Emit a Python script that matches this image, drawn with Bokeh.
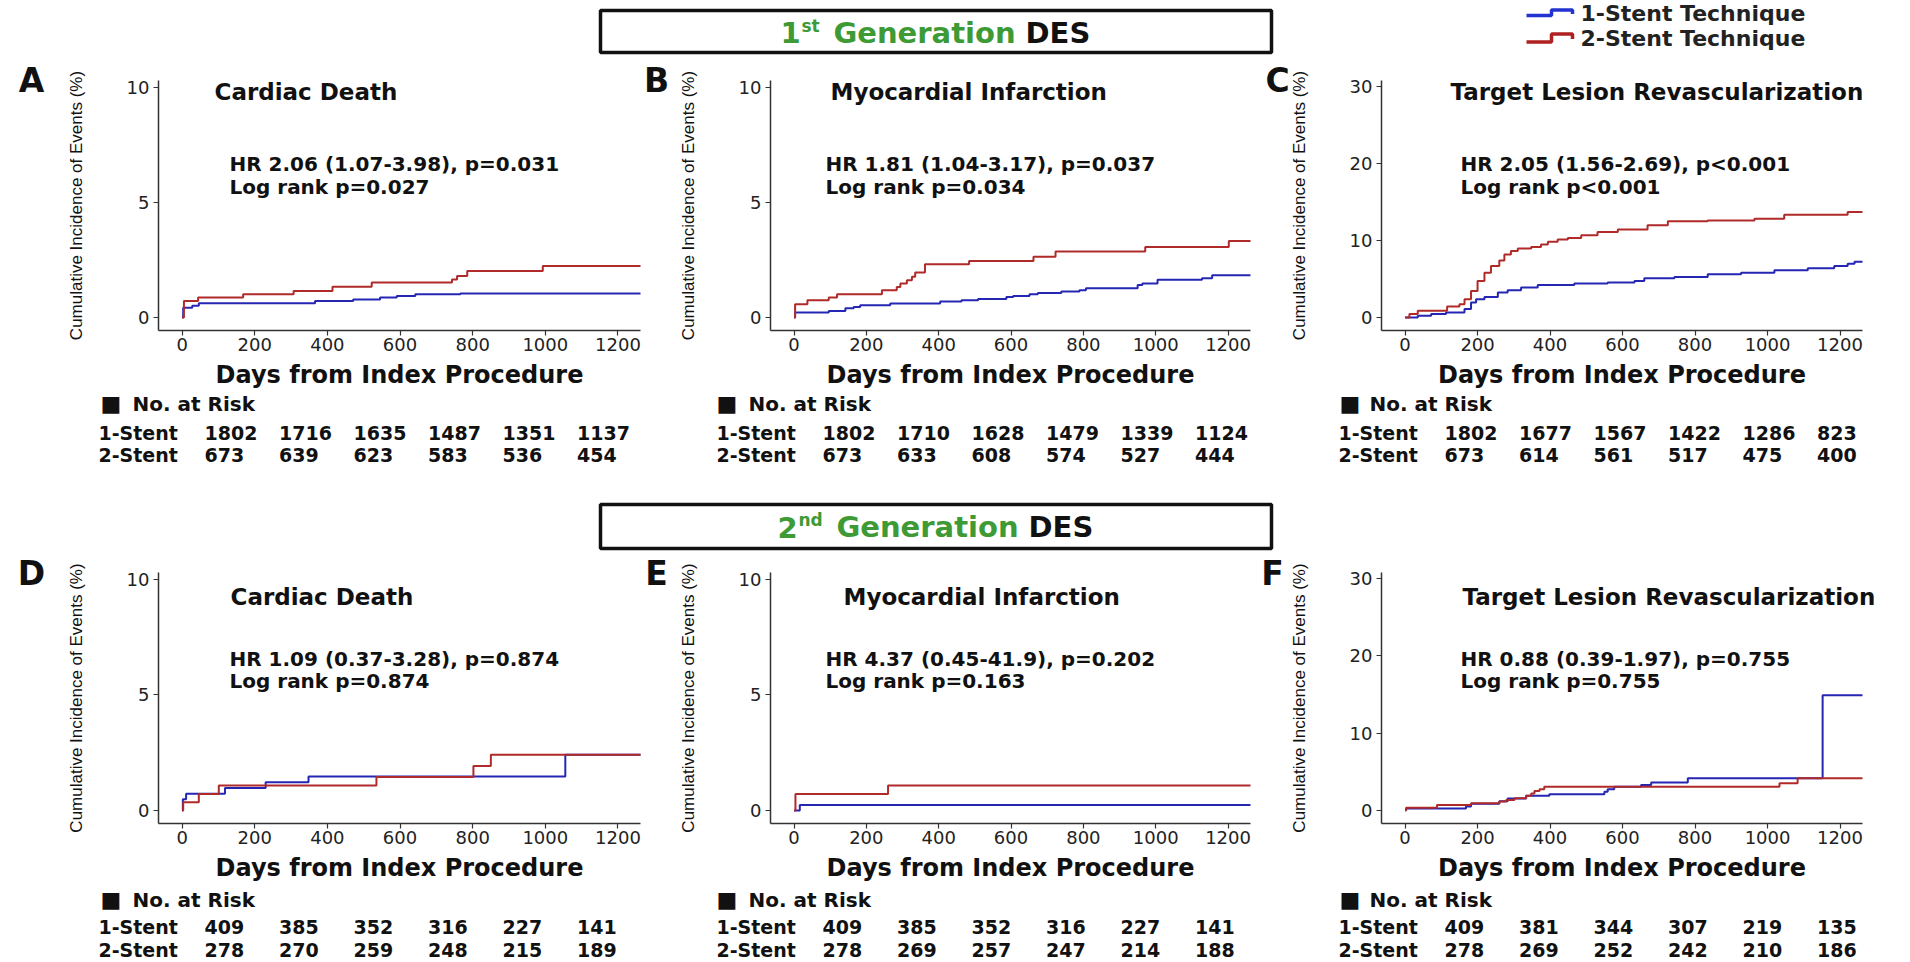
from bokeh.plotting import figure
from bokeh.models import Range1d, Label, FixedTicker
from bokeh.layouts import column, row
from bokeh.embed import file_html
from bokeh.resources import INLINE

# ---------------- data ----------------
tick_days = [0, 200, 400, 600, 800, 1000, 1200]
y_ticks_10 = [0, 5, 10]
y_ticks_30 = [0, 10, 20, 30]
group_names = ["1-Stent", "2-Stent"]
legend_labels = ["1-Stent Technique", "2-Stent Technique"]
header_ordinals = ["1", "2"]
header_suffixes = ["st", "nd"]
header_words = ["Generation", "DES"]
panel_letters = ["A", "B", "C", "D", "E", "F"]
endpoint_titles = ["Cardiac Death", "Myocardial Infarction", "Target Lesion Revascularization",
                   "Cardiac Death", "Myocardial Infarction", "Target Lesion Revascularization"]
hr_texts = ["HR 2.06 (1.07-3.98), p=0.031", "HR 1.81 (1.04-3.17), p=0.037", "HR 2.05 (1.56-2.69), p<0.001",
            "HR 1.09 (0.37-3.28), p=0.874", "HR 4.37 (0.45-41.9), p=0.202", "HR 0.88 (0.39-1.97), p=0.755"]
logrank_texts = ["Log rank p=0.027", "Log rank p=0.034", "Log rank p<0.001",
                 "Log rank p=0.874", "Log rank p=0.163", "Log rank p=0.755"]

# A: 1st generation, cardiac death
a_one_days = [0, 3, 28, 46, 366, 471, 545, 591, 642, 766, 1262]
a_one_pct = [0, 0.43, 0.51, 0.62, 0.72, 0.79, 0.87, 0.94, 1.01, 1.05, 1.05]
a_two_days = [0, 5, 44, 168, 307, 414, 522, 743, 757, 785, 993, 1262]
a_two_pct = [0, 0.72, 0.87, 1.01, 1.16, 1.34, 1.52, 1.66, 1.81, 2.02, 2.24, 2.24]
a_risk_one = [1802, 1716, 1635, 1487, 1351, 1137]
a_risk_two = [673, 639, 623, 583, 536, 454]

# B: 1st generation, myocardial infarction
b_one_days = [0, 3, 96, 142, 165, 183, 266, 404, 463, 509, 587, 606, 651, 674, 739, 789, 807,
              950, 963, 1005, 1128, 1156, 1262]
b_one_pct = [0, 0.22, 0.29, 0.41, 0.46, 0.54, 0.61, 0.70, 0.75, 0.81, 0.90, 0.94, 1.01, 1.07, 1.13,
             1.19, 1.28, 1.42, 1.48, 1.65, 1.71, 1.84, 1.84]
b_two_days = [0, 3, 37, 96, 119, 243, 284, 294, 312, 326, 335, 362, 484, 662, 723, 971, 1202, 1262]
b_two_pct = [0, 0.58, 0.75, 0.87, 1.01, 1.19, 1.33, 1.48, 1.62, 1.77, 1.96, 2.32, 2.46, 2.64, 2.87,
             3.07, 3.33, 3.33]
b_risk_one = [1802, 1710, 1628, 1479, 1339, 1124]
b_risk_two = [673, 633, 608, 574, 527, 444]

# C: 1st generation, target lesion revascularization
c_one_days = [0, 35, 72, 113, 164, 182, 196, 219, 256, 283, 320, 366, 467, 559, 633, 660, 743,
              835, 927, 1019, 1111, 1184, 1221, 1240, 1262]
c_one_pct = [0, 0.22, 0.43, 0.65, 1.08, 1.94, 2.37, 2.67, 3.23, 3.53, 3.88, 4.22, 4.40, 4.53, 4.74,
             5.09, 5.26, 5.60, 5.82, 6.12, 6.38, 6.68, 6.98, 7.24, 7.24]
c_two_days = [0, 12, 35, 116, 150, 164, 182, 200, 219, 237, 260, 274, 292, 311, 348, 375, 394, 421,
              449, 486, 531, 587, 669, 725, 835, 964, 1046, 1221, 1262]
c_two_pct = [0, 0.43, 0.86, 1.42, 1.72, 2.37, 3.45, 4.74, 5.82, 6.68, 7.41, 8.19, 8.62, 8.97, 9.14,
             9.48, 9.83, 10.13, 10.34, 10.69, 11.12, 11.42, 11.98, 12.50, 12.59, 12.84, 13.36, 13.70, 13.70]
c_risk_one = [1802, 1677, 1567, 1422, 1286, 823]
c_risk_two = [673, 614, 561, 517, 475, 400]

# D: 2nd generation, cardiac death
d_one_days = [0, 2, 11, 118, 230, 348, 1055, 1262]
d_one_pct = [0, 0.49, 0.73, 0.98, 1.22, 1.47, 2.41, 2.41]
d_two_days = [0, 3, 46, 101, 535, 802, 850, 1262]
d_two_pct = [0, 0.36, 0.72, 1.08, 1.45, 1.93, 2.41, 2.41]
d_risk_one = [409, 385, 352, 316, 227, 141]
d_risk_two = [278, 270, 259, 248, 215, 189]

# E: 2nd generation, myocardial infarction
e_one_days = [0, 16, 1262]
e_one_pct = [0, 0.24, 0.24]
e_two_days = [0, 4, 260, 1262]
e_two_pct = [0, 0.72, 1.08, 1.08]
e_risk_one = [409, 385, 352, 316, 227, 141]
e_risk_two = [278, 269, 257, 247, 214, 188]

# F: 2nd generation, target lesion revascularization
f_one_days = [0, 3, 168, 182, 260, 283, 334, 398, 550, 559, 577, 651, 679, 780, 1152, 1262]
f_one_pct = [0, 0.24, 0.49, 0.87, 1.18, 1.53, 1.88, 2.10, 2.40, 2.75, 3.06, 3.28, 3.62, 4.15, 14.90, 14.90]
f_two_days = [0, 3, 88, 182, 260, 279, 302, 334, 348, 357, 371, 384, 1033, 1083, 1262]
f_two_pct = [0, 0.35, 0.70, 0.92, 1.14, 1.35, 1.57, 1.88, 2.18, 2.50, 2.75, 3.06, 3.50, 4.15, 4.15]
f_risk_one = [409, 381, 344, 307, 219, 135]
f_risk_two = [278, 269, 252, 242, 210, 186]

# ---------------- styling / layout (page pixels) ----------------
BLUE = "#2626b4"
RED = "#b02a2a"
GREEN = "#3d9a35"
INK = "#111111"
BOLD = "DejaVu Sans"

X_RANGE = (-65, 1262)
Y_RANGE_10 = (-0.56, 10.3)
Y_RANGE_30 = (-1.7, 30.8)

PAGE_W = 1908
COL_LEFT = [0, 641, 1256]
COL_W = [641, 615, 652]
PLOT_LEFT = [158, 770, 1381]
PLOT_W = [482, 480, 481]
ROW_TOP = [60, 551]
ROW_H = [410, 409]
PLOT_TOP = [80, 572]
PLOT_H = [250, 251]

LETTER_XY = [(31, 80), (656, 80), (1277, 80), (31, 573), (656, 573), (1272, 573)]
TITLE_X = [214, 830, 1450, 230, 843, 1462]
TITLE_Y = [91, 596]
HR_X = [229, 825, 1460, 229, 825, 1460]
HR_Y = [(163, 186), (658, 680)]
TABLE_X = [98, 716, 1338]
SQUARE_X = [100, 716, 1339]
NOATRISK_X = [132, 748, 1369]
TABLE_HEAD_Y = [403, 899]
TABLE_ROW_Y = [(432, 454), (926, 949)]
NUM_OFFSET = 106
NUM_STEP = 74.5


def add_text(p, x, y, text, size, color=INK, bold=True, font=BOLD, align="left"):
    p.add_layout(Label(x=x, y=y, text=text, text_font=font, text_font_size=f"{size}px",
                       text_font_style="bold" if bold else "normal", text_color=color,
                       text_align=align, text_baseline="middle"))


panels = [
    dict(one=(a_one_days, a_one_pct), two=(a_two_days, a_two_pct), risk=(a_risk_one, a_risk_two), yr=Y_RANGE_10, yt=y_ticks_10),
    dict(one=(b_one_days, b_one_pct), two=(b_two_days, b_two_pct), risk=(b_risk_one, b_risk_two), yr=Y_RANGE_10, yt=y_ticks_10),
    dict(one=(c_one_days, c_one_pct), two=(c_two_days, c_two_pct), risk=(c_risk_one, c_risk_two), yr=Y_RANGE_30, yt=y_ticks_30),
    dict(one=(d_one_days, d_one_pct), two=(d_two_days, d_two_pct), risk=(d_risk_one, d_risk_two), yr=Y_RANGE_10, yt=y_ticks_10),
    dict(one=(e_one_days, e_one_pct), two=(e_two_days, e_two_pct), risk=(e_risk_one, e_risk_two), yr=Y_RANGE_10, yt=y_ticks_10),
    dict(one=(f_one_days, f_one_pct), two=(f_two_days, f_two_pct), risk=(f_risk_one, f_risk_two), yr=Y_RANGE_30, yt=y_ticks_30),
]


def make_panel(i):
    spec = panels[i]
    c, r = i % 3, i // 3
    cl, cw = COL_LEFT[c], COL_W[c]
    rt, rh = ROW_TOP[r], ROW_H[r]
    pl, pw = PLOT_LEFT[c], PLOT_W[c]
    pt, ph = PLOT_TOP[r], PLOT_H[r]
    x0, x1 = X_RANGE
    y0, y1 = spec["yr"]

    def dx(px):
        return x0 + (px - pl) * (x1 - x0) / pw

    def dy(py):
        return y1 - (py - pt) * (y1 - y0) / ph

    p = figure(frame_width=cw, frame_height=rh, min_border=0,
               min_border_left=0, min_border_right=0, min_border_top=0, min_border_bottom=0,
               x_range=Range1d(dx(cl), dx(cl + cw)), y_range=Range1d(dy(rt + rh), dy(rt)),
               output_backend="svg", toolbar_location=None, title=None)
    p.background_fill_color = "white"
    p.border_fill_color = "white"
    p.outline_line_color = None
    p.xgrid.grid_line_color = None
    p.ygrid.grid_line_color = None

    # axes drawn at the corner of the plotting region
    p.xaxis.fixed_location = y0
    p.yaxis.fixed_location = x0
    p.xaxis.bounds = (x0, x1)
    p.yaxis.bounds = (y0, y1)
    p.xaxis.ticker = FixedTicker(ticks=tick_days)
    p.yaxis.ticker = FixedTicker(ticks=spec["yt"])
    for ax in (p.xaxis[0], p.yaxis[0]):
        ax.axis_line_color = "#333333"
        ax.axis_line_width = 1.5
        ax.major_tick_line_color = "#333333"
        ax.major_tick_line_width = 1.2
        ax.major_tick_in = 0
        ax.major_tick_out = 5
        ax.minor_tick_line_color = None
        ax.major_label_text_font = "DejaVu Sans"
        ax.major_label_text_font_size = "18px"
        ax.major_label_text_color = "#222222"
    p.xaxis.major_label_standoff = 2
    p.yaxis.major_label_standoff = 4
    p.xaxis.axis_label = "Days from Index Procedure"
    p.xaxis.axis_label_text_font = BOLD
    p.xaxis.axis_label_text_font_style = "bold"
    p.xaxis.axis_label_text_font_size = "24px"
    p.xaxis.axis_label_text_color = INK
    p.xaxis.axis_label_standoff = 7
    p.yaxis.axis_label = "Cumulative Incidence of Events (%)"
    p.yaxis.axis_label_text_font = "Liberation Sans"
    p.yaxis.axis_label_text_font_style = "normal"
    p.yaxis.axis_label_text_font_size = "17px"
    p.yaxis.axis_label_text_color = INK
    p.yaxis.axis_label_standoff = 38

    # curves
    p.step(spec["one"][0], spec["one"][1], mode="after", line_color=BLUE, line_width=2)
    p.step(spec["two"][0], spec["two"][1], mode="after", line_color=RED, line_width=2)

    # texts
    lx, ly = LETTER_XY[i]
    add_text(p, dx(lx), dy(ly), panel_letters[i], 33, align="center")
    add_text(p, dx(TITLE_X[i]), dy(TITLE_Y[r]), endpoint_titles[i], 23)
    add_text(p, dx(HR_X[i]), dy(HR_Y[r][0]), hr_texts[i], 20)
    add_text(p, dx(HR_X[i]), dy(HR_Y[r][1]), logrank_texts[i], 20)

    # number at risk table
    add_text(p, dx(SQUARE_X[c]), dy(TABLE_HEAD_Y[r]), "\u25a0", 22, bold=False)
    add_text(p, dx(NOATRISK_X[c]), dy(TABLE_HEAD_Y[r]), "No. at Risk", 20)
    for g in range(2):
        yy = dy(TABLE_ROW_Y[r][g])
        add_text(p, dx(TABLE_X[c]), yy, group_names[g], 19)
        for k, n in enumerate(spec["risk"][g]):
            add_text(p, dx(TABLE_X[c] + NUM_OFFSET + k * NUM_STEP), yy, str(n), 19)
    return p


def make_strip(top, bottom):
    s = figure(frame_width=PAGE_W, frame_height=bottom - top,
               x_range=Range1d(0, PAGE_W), y_range=Range1d(bottom, top),
               x_axis_type=None, y_axis_type=None, min_border=0,
               output_backend="svg", toolbar_location=None, title=None)
    s.background_fill_color = "white"
    s.border_fill_color = "white"
    s.outline_line_color = None
    s.xgrid.grid_line_color = None
    s.ygrid.grid_line_color = None
    return s


def add_header(s, idx, box_top, box_bottom, cy, start):
    s.quad(left=600, right=1271, top=box_top, bottom=box_bottom, fill_color=None,
           line_color="#111111", line_width=3.5)
    big = 29
    add_text(s, start, cy, header_ordinals[idx], big, color=GREEN)
    add_text(s, start + 21, cy - 7, header_suffixes[idx], 17, color=GREEN)
    sup_w = 18 if idx == 0 else 24
    gx = start + 21 + sup_w + 14
    add_text(s, gx, cy, header_words[0], big, color=GREEN)
    add_text(s, gx + 192, cy, header_words[1], big, color=INK)


top = make_strip(0, 60)
add_header(top, 0, 10, 52, 32, 780)
# legend
top.line([1526, 1551, 1551, 1572, 1572], [15, 15, 9.5, 9.5, 13.5], line_color="#2233d0", line_width=3.5)
top.line([1526, 1551, 1551, 1572, 1572], [41.5, 41.5, 33.5, 33.5, 38.5], line_color="#b02020", line_width=3.5)
add_text(top, 1580, 13, legend_labels[0], 22, color="#222222")
add_text(top, 1580, 38, legend_labels[1], 22, color="#222222")

mid = make_strip(470, 551)
add_header(mid, 1, 504, 548, 526.5, 777)

figs = [make_panel(i) for i in range(6)]
layout = column(top, row(*figs[:3]), mid, row(*figs[3:]))

open("out.html", "w").write(file_html(layout, INLINE))
